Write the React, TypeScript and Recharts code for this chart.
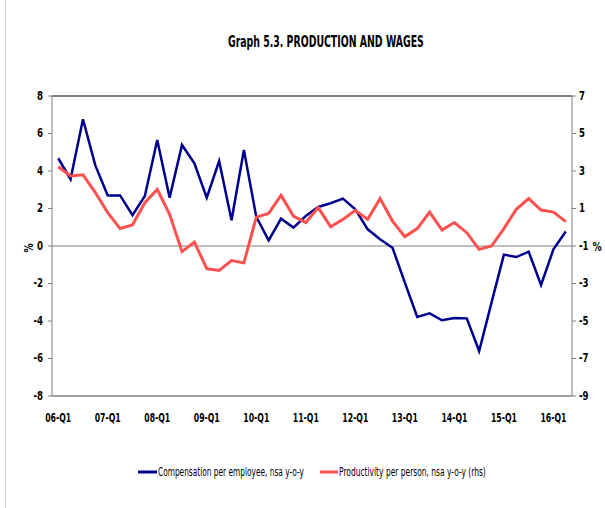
import React from "react";
import { LineChart, Line, XAxis, YAxis, ReferenceLine } from "recharts";

const quarters = [
  "06-Q1","06-Q2","06-Q3","06-Q4","07-Q1","07-Q2","07-Q3","07-Q4",
  "08-Q1","08-Q2","08-Q3","08-Q4","09-Q1","09-Q2","09-Q3","09-Q4",
  "10-Q1","10-Q2","10-Q3","10-Q4","11-Q1","11-Q2","11-Q3","11-Q4",
  "12-Q1","12-Q2","12-Q3","12-Q4","13-Q1","13-Q2","13-Q3","13-Q4",
  "14-Q1","14-Q2","14-Q3","14-Q4","15-Q1","15-Q2","15-Q3","15-Q4",
  "16-Q1","16-Q2",
];

const compensation = [
  4.68, 3.56, 6.76, 4.3, 2.7, 2.7, 1.65, 2.67,
  5.65, 2.58, 5.39, 4.41, 2.58, 4.53, 1.37, 5.12,
  1.55, 0.3, 1.46, 0.98, 1.6, 2.08, 2.28, 2.53,
  1.96, 0.89, 0.36, -0.09, -1.95, -3.78, -3.59, -3.96,
  -3.84, -3.86, -5.6, -3.02, -0.46, -0.59, -0.3, -2.08,
  -0.18, 0.77,
];

const productivity = [
  3.23, 2.73, 2.8, 1.85, 0.78, -0.07, 0.12, 1.31,
  2.02, 0.69, -1.3, -0.79, -2.21, -2.3, -1.78, -1.9,
  0.54, 0.74, 1.7, 0.6, 0.25, 1.05, 0.03, 0.42,
  0.9, 0.42, 1.53, 0.33, -0.5, -0.07, 0.81, -0.15,
  0.25, -0.29, -1.18, -1.0, -0.07, 0.96, 1.53, 0.92,
  0.81, 0.3,
];

const leftTicks = [-8, -6, -4, -2, 0, 2, 4, 6, 8];
const rightTicks = [-9, -7, -5, -3, -1, 1, 3, 5, 7];

const titleText = "Graph 5.3. PRODUCTION AND WAGES";
const seriesNames = [
  "Compensation per employee, nsa y-o-y",
  "Productivity per person, nsa y-o-y (rhs)",
];

const data = quarters.map((q, i) => ({
  q,
  comp: compensation[i],
  prod: productivity[i],
}));

const FONT = "'DejaVu Sans Condensed', 'DejaVu Sans', sans-serif";
const BLUE = "#00008F";
const RED = "#FF5050";
const SX = 0.8;

function fitScale(text: string, font: string, target: number): number {
  try {
    const c = document.createElement("canvas");
    const ctx = c.getContext("2d");
    if (!ctx) return 0.7;
    ctx.font = font;
    const w = ctx.measureText(text).width;
    return w > 0 ? target / w : 0.7;
  } catch (e) {
    return 0.7;
  }
}

const ScaledText = ({ x, y, text, size, weight, target, fill = "#000" }: any) => {
  const s = fitScale(text, `${weight} ${size}px 'DejaVu Sans Condensed'`, target);
  return (
    <g transform={`translate(${x},${y}) scale(${s},1)`}>
      <text x={0} y={0} fontFamily={FONT} fontWeight={weight} fontSize={size} fill={fill}>
        {text}
      </text>
    </g>
  );
};

const LeftTick = (props: any) => {
  const { x, y, payload } = props;
  return (
    <g transform={`translate(${x},${y}) scale(${SX},1)`}>
      <text x={0} y={0} textAnchor="end" dominantBaseline="central" fontFamily={FONT} fontWeight="bold" fontSize={12} fill="#000">
        {payload.value}
      </text>
    </g>
  );
};

const RightTick = (props: any) => {
  const { x, y, payload } = props;
  return (
    <g transform={`translate(${x},${y}) scale(${SX},1)`}>
      <text x={0} y={0} textAnchor="start" dominantBaseline="central" fontFamily={FONT} fontWeight="bold" fontSize={12} fill="#000">
        {payload.value}
      </text>
    </g>
  );
};

const BottomTick = (props: any) => {
  const { x, y, payload } = props;
  return (
    <g transform={`translate(${x},${y + 26}) scale(0.72,1)`}>
      <text x={0} y={0} textAnchor="middle" fontFamily={FONT} fontWeight="bold" fontSize={12} fill="#000">
        {payload.value}
      </text>
    </g>
  );
};

export default function App() {
  return (
    <div style={{ position: "absolute", left: 0, top: 0, width: 605, height: 508, background: "#fff" }}>
      <div style={{ position: "absolute", left: 5, top: 0, width: 1, height: 508, background: "#d4d4d4" }} />
      <svg width={605} height={508} style={{ position: "absolute", left: 0, top: 0 }}>
        <ScaledText x={228} y={47} text={titleText} size={16} weight="bold" target={196} />
        <g transform="translate(29,248) rotate(-90) scale(0.85,1)">
          <text x={0} y={0} textAnchor="middle" dominantBaseline="central" fontFamily={FONT} fontWeight="bold" fontSize={12}>%</text>
        </g>
        <g transform="translate(597,247) scale(0.85,1)">
          <text x={0} y={0} textAnchor="middle" dominantBaseline="central" fontFamily={FONT} fontWeight="bold" fontSize={12}>%</text>
        </g>
        <line x1={138} x2={157} y1={472} y2={472} stroke={BLUE} strokeWidth={3} />
        <ScaledText x={158} y={476} text={seriesNames[0]} size={12} weight="normal" target={146} />
        <line x1={320} x2={338} y1={472} y2={472} stroke={RED} strokeWidth={3} />
        <ScaledText x={339} y={476} text={seriesNames[1]} size={12} weight="normal" target={147} />
      </svg>
      <div style={{ position: "absolute", left: 0, top: 0 }}>
        <LineChart width={605} height={508} data={data} margin={{ top: 96, right: 3, bottom: 82, left: 12 }}>
          <XAxis
            dataKey="q"
            scale="band"
            interval={3}
            tickLine={false}
            tickSize={0}
            tickMargin={0}
            height={30}
            axisLine={{ stroke: "#404040", strokeWidth: 1 }}
            tick={<BottomTick />}
          />
          <YAxis
            yAxisId="left"
            domain={[-8, 8]}
            ticks={leftTicks}
            width={40}
            tickSize={4}
            tickMargin={5}
            tickLine={{ stroke: "#808080" }}
            axisLine={{ stroke: "#808080" }}
            tick={<LeftTick />}
          />
          <YAxis
            yAxisId="right"
            orientation="right"
            domain={[-9, 7]}
            ticks={rightTicks}
            width={30}
            tickSize={4}
            tickMargin={3}
            tickLine={{ stroke: "#808080" }}
            axisLine={{ stroke: "#808080" }}
            tick={<RightTick />}
          />
          <ReferenceLine yAxisId="left" y={0} stroke="#808080" strokeWidth={1} />
          <ReferenceLine yAxisId="left" y={8} stroke="#000" strokeWidth={1} />
          <Line yAxisId="left" type="linear" dataKey="comp" stroke={BLUE} strokeWidth={2.5} dot={false} isAnimationActive={false} />
          <Line yAxisId="right" type="linear" dataKey="prod" stroke={RED} strokeWidth={3} dot={false} isAnimationActive={false} />
        </LineChart>
      </div>
    </div>
  );
}
